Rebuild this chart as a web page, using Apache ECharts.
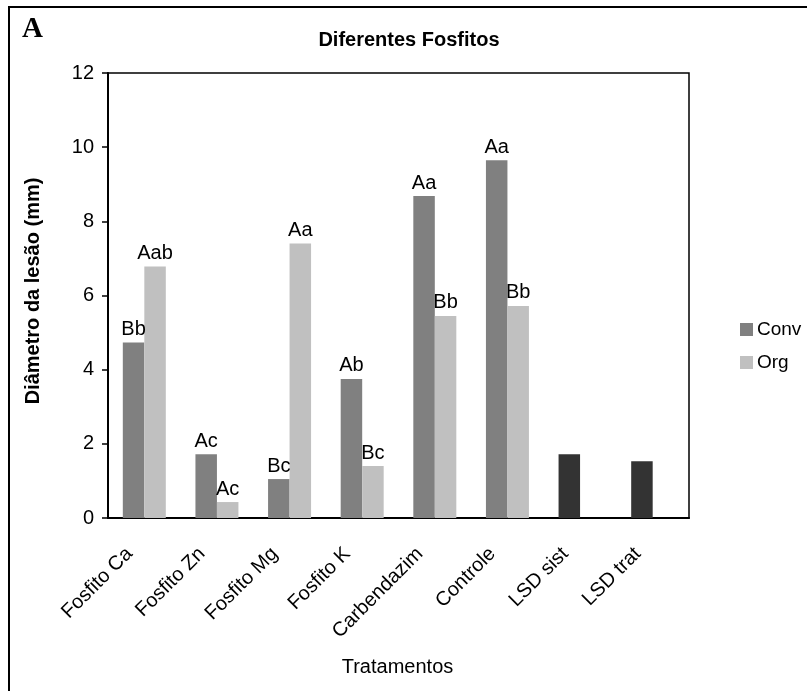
<!DOCTYPE html>
<html>
<head>
<meta charset="utf-8">
<script src="https://cdn.jsdelivr.net/npm/echarts@6/dist/echarts.min.js"></script>
<style>
  html, body { margin: 0; padding: 0; background: #fff; }
  #chart { width: 807px; height: 691px; }
</style>
</head>
<body>
<div id="chart"></div>
<script>
// categorias e valores
const categories = ['Fosfito Ca', 'Fosfito Zn', 'Fosfito Mg', 'Fosfito K', 'Carbendazim', 'Controle', 'LSD sist', 'LSD trat']
const convValues = [4.73, 1.72, 1.05, 3.75, 8.68, 9.65, 1.72, 1.53]
const orgValues = [6.78, 0.43, 7.4, 1.4, 5.45, 5.72, '-', '-']
const convLabels = ['Bb', 'Ac', 'Bc', 'Ab', 'Aa', 'Aa', '', '']
const orgLabels = ['Aab', 'Ac', 'Aa', 'Bc', 'Bb', 'Bb', '', '']
const yTicks = [0, 2, 4, 6, 8, 10, 12]

const font = '"Liberation Sans", Arial, sans-serif'
const convColor = '#808080'
const orgColor = '#c0c0c0'
const lsdColor = '#333333'

const chart = echarts.init(document.getElementById('chart'))

const option = {
  animation: false,
  backgroundColor: '#fff',
  textStyle: { fontFamily: font },
  grid: {
    left: 108, top: 73, right: 118, bottom: 173,
    show: true, borderColor: '#000', borderWidth: 1.5, backgroundColor: 'transparent'
  },
  legend: {
    orient: 'vertical',
    left: 740,
    top: 320,
    padding: 0,
    itemWidth: 13,
    itemHeight: 13,
    itemGap: 14,
    icon: 'rect',
    textStyle: { fontSize: 19, color: '#000', fontFamily: font, padding: [0, 0, 0, -1] },
    data: ['Conv', 'Org']
  },
  xAxis: {
    type: 'category',
    data: categories,
    axisLine: { lineStyle: { color: '#000', width: 2 } },
    axisTick: { length: 7, lineStyle: { color: '#000', width: 1.5 } },
    axisLabel: {
      rotate: 45, fontSize: 20, color: '#000', margin: 18, fontFamily: font,
      padding: [0, 21, 0, 0]
    }
  },
  yAxis: {
    type: 'value',
    min: yTicks[0],
    max: yTicks[yTicks.length - 1],
    interval: 2,
    splitLine: { show: false },
    axisLine: { show: true, lineStyle: { color: '#000', width: 2 } },
    axisTick: { show: true, length: 6, lineStyle: { color: '#000', width: 1.5 } },
    axisLabel: { fontSize: 20, color: '#000', margin: 14, fontFamily: font }
  },
  series: [
    {
      name: 'Conv',
      type: 'bar',
      barWidth: 21.5,
      barGap: '0%',
      itemStyle: { color: convColor },
      data: convValues.map((v, i) => ({
        value: v,
        itemStyle: { color: categories[i].startsWith('LSD') ? lsdColor : convColor }
      })),
      label: {
        show: true,
        position: 'top',
        distance: 3,
        fontSize: 20,
        color: '#000',
        fontFamily: font,
        formatter: p => convLabels[p.dataIndex]
      }
    },
    {
      name: 'Org',
      type: 'bar',
      barWidth: 21.5,
      barGap: '0%',
      itemStyle: { color: orgColor },
      data: orgValues,
      label: {
        show: true,
        position: 'top',
        distance: 3,
        fontSize: 20,
        color: '#000',
        fontFamily: font,
        formatter: p => orgLabels[p.dataIndex]
      }
    }
  ],
  graphic: [
    // moldura externa (cortada à direita e embaixo)
    {
      type: 'rect',
      shape: { x: 9, y: 7, width: 900, height: 800 },
      style: { fill: 'none', stroke: '#000', lineWidth: 2 },
      silent: true
    },
    {
      type: 'text',
      left: 22, top: 15,
      style: { text: 'A', font: 'bold 29px "Liberation Serif", "Times New Roman", serif', fill: '#000' }
    },
    {
      type: 'text',
      x: 409, y: 40,
      style: {
        text: 'Diferentes Fosfitos', font: 'bold 20px ' + font, fill: '#000',
        textAlign: 'center', textVerticalAlign: 'middle'
      }
    },
    {
      type: 'text',
      x: 33.5, y: 291,
      rotation: Math.PI / 2,
      style: {
        text: 'Diâmetro da lesão (mm)', font: 'bold 20px ' + font, fill: '#000',
        textAlign: 'center', textVerticalAlign: 'middle'
      }
    },
    {
      type: 'text',
      x: 397.5, y: 667.5,
      style: {
        text: 'Tratamentos', font: '20px ' + font, fill: '#000',
        textAlign: 'center', textVerticalAlign: 'middle'
      }
    }
  ]
}

chart.setOption(option)
</script>
</body>
</html>
